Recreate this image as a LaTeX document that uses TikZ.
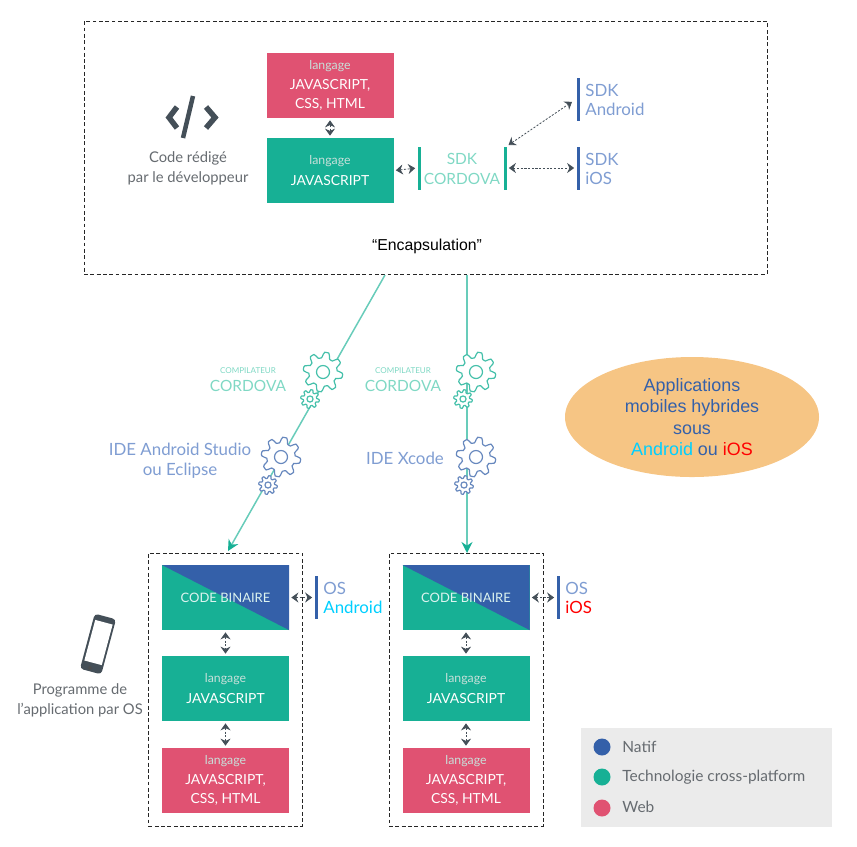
\documentclass[tikz,border=0pt]{standalone}
\usepackage{fontspec}
\setmainfont{Lato}
\newfontfamily\arialfont{Liberation Sans}
\usetikzlibrary{arrows.meta,shapes.geometric}

\def\px{0.02cm}
\definecolor{natif}{HTML}{3460A9}
\definecolor{cross}{HTML}{17B095}
\definecolor{web}{HTML}{E05272}
\definecolor{inkdark}{HTML}{444F58}
\definecolor{inktext}{HTML}{666B70}
\definecolor{palecross}{HTML}{7FD8C4}
\definecolor{palenatif}{HTML}{7F9DD2}
\definecolor{paletext}{HTML}{C8E0DA}
\definecolor{panel}{HTML}{EBEBEB}
\definecolor{bubble}{HTML}{F6C584}
\definecolor{droidcyan}{HTML}{00CFFF}

\tikzset{
    block/.style={minimum width=127*\px, minimum height=65*\px, inner sep=0pt, text=white, align=center,
        font=\fontsize{7.9}{11.1}\selectfont},
    jsblock/.style={block, fill=cross},
    webblock/.style={block, fill=web},
    binblock/.style={block, fill=cross, text=white!85!cross, font=\fontsize{7.4}{11}\selectfont, path picture={
        \fill[natif] (path picture bounding box.north west) -- (path picture bounding box.north east)
            -- (path picture bounding box.south east) -- cycle;}},
    bar/.style={minimum width=3*\px, minimum height=43*\px, inner sep=0pt},
    link/.style={{Stealth[width=10*\px,length=7*\px]}-{Stealth[width=10*\px,length=7*\px]}, inkdark,
        dash pattern=on 1.2pt off 0.9pt, line width=0.8*\px, shorten <=2*\px, shorten >=2*\px},
    flow/.style={-{Stealth[width=11*\px,length=11*\px,color=cross]}, cross!65, line width=1.5*\px},
    frame/.style={draw=black!85, dash pattern=on 2.2pt off 1.4pt, line width=1*\px},
    label/.style={align=center, inner sep=0pt, font=\fontsize{8.4}{11.3}\selectfont, text=inktext},
    sdk/.style={align=left, inner sep=0pt, font=\fontsize{9.6}{11.3}\selectfont},
    legend/.style={anchor=west, inner sep=0pt, font=\fontsize{8.8}{11}\selectfont, text=inktext},
    dot/.style={circle, minimum size=17*\px, inner sep=0pt},
    pics/gear/.style={code={
        \draw[fill=white, line width=1.2*\px] plot[smooth cycle, domain=0:356, samples=90]
            (\x+11:{17+2.8*max(min(1.7*cos(8*\x),1),-1)});
        \draw[line width=1.2*\px] (0,0) circle (6.5);
    }},
}
\newcommand{\lang}{{\fontsize{7}{11}\selectfont\color{paletext}langage}}

\begin{document}
\begin{tikzpicture}[x=\px, y=-\px]
    \useasboundingbox (0,0) rectangle (857,846);

    % Encapsulation
    \node[frame, minimum width=683*\px, minimum height=253*\px, inner sep=0pt] (encaps) at (425.5,147.5) {};
    \node[inner sep=0pt, font=\arialfont\fontsize{9}{10}\selectfont] (encapstext) at (427,246) {“Encapsulation”};

    % Code icon
    \draw[inkdark, line width=5.5*\px, line join=miter] (177,107) -- (169,117.5) -- (177,128);
    \draw[inkdark, line width=5.5*\px, line join=miter] (206,107) -- (215,117.5) -- (206,128);
    \draw[inkdark, line width=4.5*\px] (193,96) -- (183,138);
    \node[label] (codetext) at (188,168) {Code rédigé\\par le développeur};

    % Source blocks
    \node[webblock] (websrc) at (330,85.5) {\lang\\JAVASCRIPT,\\CSS, HTML};
    \node[jsblock] (jssrc) at (330,170.5) {\lang\\[1pt]JAVASCRIPT};
    \draw[link] (websrc.south) -- (jssrc.north);

    % SDK
    \node[bar, fill=cross] (cordl) at (419,168) {};
    \node[bar, fill=cross] (cordr) at (505,168) {};
    \node[bar, fill=natif] (sdkdroid) at (578,99) {};
    \node[bar, fill=natif] (sdkios) at (578,168) {};
    \node[sdk, align=center, text=palecross, font=\fontsize{8.8}{11.3}\selectfont] (cordtext) at (462,169) {SDK\\CORDOVA};
    \node[sdk, anchor=west, text=palenatif] (droidtext) at (585,100) {SDK\\Android};
    \node[sdk, anchor=west, text=palenatif] (iostext) at (585,169) {SDK\\iOS};
    \draw[link] (jssrc.east) -- (cordl.west);
    \draw[link] (cordr.east) -- (sdkios.west);
    \draw[link, shorten >=5*\px] (cordr.north east) -- (sdkdroid.west);

    % Flows
    \coordinate (outl) at (385,275);
    \coordinate (outr) at (467,275);
    \coordinate (inl) at (228,551);
    \coordinate (inr) at (467,553);
    \draw[flow] (outl) -- (inl);
    \draw[flow] (outr) -- (inr);

    % Gears
    \pic[draw=cross!80] (gca) at (323,372) {gear};
    \pic[draw=cross!80, scale=0.47] (gcb) at (310,399) {gear};
    \pic[draw=natif!75] (gda) at (281,457) {gear};
    \pic[draw=natif!75, scale=0.47] (gdb) at (268,485) {gear};
    \pic[draw=cross!80] (gcc) at (476,372) {gear};
    \pic[draw=cross!80, scale=0.47] (gcd) at (463,399) {gear};
    \pic[draw=natif!75] (gdc) at (476,457) {gear};
    \pic[draw=natif!75, scale=0.47] (gdd) at (464,485) {gear};

    % Compiler labels
    \foreach \n/\x in {l/248,r/403} {
        \node[inner sep=0pt, text=palecross, font=\fontsize{4.6}{6}\selectfont] (comp\n) at (\x,371) {COMPILATEUR};
        \node[inner sep=0pt, text=palecross, font=\fontsize{8.8}{11}\selectfont] (cord\n text) at (\x,386) {CORDOVA};
    }
    \node[sdk, align=center, text=palenatif] (idedroid) at (180,461) {IDE Android Studio\\ou Eclipse};
    \node[sdk, text=palenatif] (idexcode) at (405,458) {IDE Xcode};

    % Bubble
    \node[ellipse, fill=bubble, minimum width=254*\px, minimum height=120*\px, inner sep=0pt, align=center,
        text=natif, font=\arialfont\fontsize{10.2}{12.2}\selectfont] (bubble) at (692,417)
        {Applications\\mobiles hybrides\\sous\\\textcolor{droidcyan}{Android} ou \textcolor{red}{iOS}};

    % Programs by OS
    \foreach \n/\x in {A/225.5,I/466} {
        \node[frame, minimum width=154*\px, minimum height=273*\px, inner sep=0pt] (prog\n) at (\x,689.5) {};
        \node[binblock] (bin\n) at (\x,597.5) {CODE BINAIRE};
        \node[jsblock] (js\n) at (\x,688.5) {\lang\\[1pt]JAVASCRIPT};
        \node[webblock] (web\n) at (\x,780.5) {\lang\\JAVASCRIPT,\\CSS, HTML};
        \draw[link] (bin\n.south) -- (js\n.north);
        \draw[link] (js\n.south) -- (web\n.north);
    }
    \node[bar, fill=natif] (osA) at (316,597.5) {};
    \node[bar, fill=natif] (osI) at (558,597.5) {};
    \draw[link] (binA.east) -- (osA.west);
    \draw[link] (binI.east) -- (osI.west);
    \node[sdk, anchor=west, text=palenatif] (osAtext) at (323,598) {OS\\\textcolor{droidcyan}{Android}};
    \node[sdk, anchor=west, text=palenatif] (osItext) at (565,598) {OS\\\textcolor{red}{iOS}};

    % Phone
    \node[rotate=-15, fill=inkdark, rounded corners=2pt, minimum width=22*\px, minimum height=57*\px, inner sep=0pt] (phone) at (98,644) {};
    \node[rotate=-15, fill=white, minimum width=18*\px, minimum height=42*\px, inner sep=0pt] (screen) at (98.5,642.5) {};
    \node[circle, draw=black!70, line width=0.8*\px, minimum size=3*\px, inner sep=0pt] (homekey) at (90,668) {};
    \node[label] (phonetext) at (80,700) {Programme de\\l'application par OS};

    % Legend
    \node[fill=panel, minimum width=251*\px, minimum height=99*\px, inner sep=0pt] (legendbox) at (706.5,777.5) {};
    \node[dot, fill=natif] (dotnatif) at (602,747) {};
    \node[dot, fill=cross] (dotcross) at (602,777) {};
    \node[dot, fill=web] (dotweb) at (602,808) {};
    \node[legend] (txtnatif) at (622,747) {Natif};
    \node[legend] (txtcross) at (622,777) {Technologie cross-platform};
    \node[legend] (txtweb) at (622,807) {Web};
\end{tikzpicture}
\end{document}
